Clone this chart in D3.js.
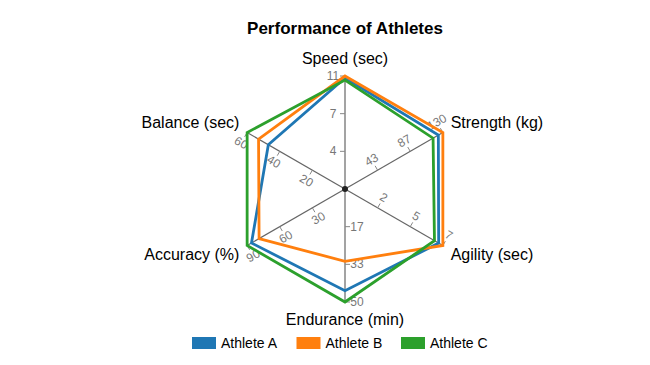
<!DOCTYPE html>
<html>
<head>
<meta charset="utf-8">
<script src="https://cdn.jsdelivr.net/npm/d3@7"></script>
<style>
  body { margin: 0; background: #fff; font-family: "Liberation Sans", Arial, sans-serif; }
</style>
</head>
<body>
<div class="chart"></div>
<script>
// chart data
var axesNames = ["Speed (sec)", "Strength (kg)", "Agility (sec)", "Endurance (min)", "Accuracy (%)", "Balance (sec)"];
var axisMax = [11, 130, 7, 50, 90, 60];
var tickFractions = [1 / 3, 2 / 3, 1];
var athletes = ["Athlete A", "Athlete B", "Athlete C"];
var athleteA = [10.8, 124, 6.7, 45, 86, 47];
var athleteB = [11, 130, 7, 32, 79, 53];
var athleteC = [10.6, 117, 6.4, 50, 90, 60];
var colors = ["#1f77b4", "#ff7f0e", "#2ca02c"];

var seriesValues = [athleteA, athleteB, athleteC];

var svgWidth = 650, svgHeight = 365;
var cx = 345, cy = 189, R = 113;

var svg = d3.select(".chart").append("svg")
  .attr("width", svgWidth)
  .attr("height", svgHeight);

svg.append("text")
  .attr("x", cx)
  .attr("y", 34)
  .attr("text-anchor", "middle")
  .attr("font-size", 17)
  .attr("font-weight", "bold")
  .text("Performance of Athletes");

var g = svg.append("g").attr("transform", `translate(${cx}, ${cy})`);

// one radial scale per axis
var scales = axisMax.map(m => d3.scaleLinear().domain([0, m]).range([0, R]));
var angle = d3.scalePoint().domain(axesNames).range([0, 300]);
var fmt = d3.format(".0f");

function dir(name) {
  var a = angle(name) * Math.PI / 180;
  return [Math.sin(a), -Math.cos(a)];
}

// axes
axesNames.forEach(function(name, i) {
  var d = dir(name);
  var perp = [d[1], -d[0]];
  var sc = scales[i];
  g.append("line")
    .attr("x1", 0).attr("y1", 0)
    .attr("x2", d[0] * R).attr("y2", d[1] * R)
    .attr("stroke", "#666")
    .attr("stroke-width", 1.2);

  // label rotation: parallel to axis, readable; vertical axes stay flat
  var deg = Math.atan2(d[1], d[0]) * 180 / Math.PI;
  var rot = 0;
  if (Math.abs(d[0]) > 0.01) {
    rot = deg;
    if (rot > 90) rot -= 180;
    if (rot < -90) rot += 180;
  }

  tickFractions.forEach(function(f) {
    var v = sc.domain()[1] * f;
    var r = sc(v);
    var px = d[0] * r, py = d[1] * r;
    g.append("line")
      .attr("x1", px).attr("y1", py)
      .attr("x2", px + perp[0] * 5).attr("y2", py + perp[1] * 5)
      .attr("stroke", "#888")
      .attr("stroke-width", 1);
    var tx = px + perp[0] * 12, ty = py + perp[1] * 12;
    g.append("text")
      .attr("transform", `translate(${tx}, ${ty}) rotate(${rot})`)
      .attr("text-anchor", "middle")
      .attr("dominant-baseline", "central")
      .attr("font-size", 12)
      .attr("fill", "#777")
      .text(fmt(v));
  });

  // axis name
  var lr = R + 9;
  var lx = d[0] * lr, ly = d[1] * lr;
  var anchor = Math.abs(d[0]) < 0.01 ? "middle" : (d[0] > 0 ? "start" : "end");
  var dy = d[1] < -0.9 ? "-0.2em" : (d[1] < 0 ? "0em" : (d[1] > 0.9 ? "0.85em" : "0.6em"));
  g.append("text")
    .attr("x", lx)
    .attr("y", ly)
    .attr("dy", dy)
    .attr("text-anchor", anchor)
    .attr("font-size", 16)
    .attr("fill", "#000")
    .text(name);
});

// center dot
g.append("circle").attr("r", 3).attr("fill", "#222");

// series polygons
var line = d3.lineRadial()
  .angle(d => angle(d.axis) * Math.PI / 180)
  .radius(d => scales[d.idx](d.value))
  .curve(d3.curveLinearClosed);

seriesValues.forEach(function(vals, s) {
  var pts = vals.map((v, i) => ({ axis: axesNames[i], idx: i, value: v }));
  g.append("path")
    .datum(pts)
    .attr("d", line)
    .attr("fill", "none")
    .attr("stroke", colors[s])
    .attr("stroke-width", 2.8)
    .attr("stroke-linejoin", "miter");
});

// legend
var legendX = d3.scalePoint().domain(athletes).range([192, 401]);
var legend = svg.append("g");
athletes.forEach(function(name, s) {
  var x = legendX(name);
  legend.append("rect")
    .attr("x", x).attr("y", 337)
    .attr("width", 24).attr("height", 12)
    .attr("fill", colors[s]);
  legend.append("text")
    .attr("x", x + 29).attr("y", 348)
    .attr("font-size", 14)
    .text(name);
});
</script>
</body>
</html>
